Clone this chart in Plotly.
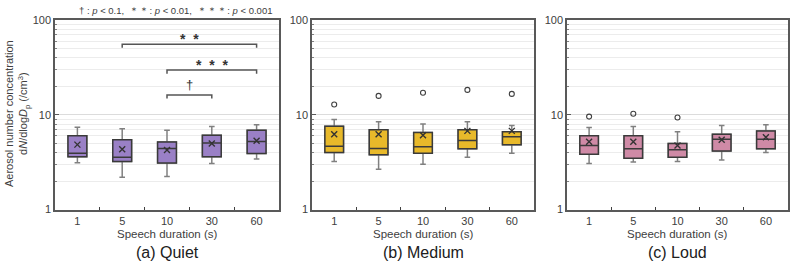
import math
import plotly.graph_objects as go

categories = ["1", "5", "10", "30", "60"]

# Quiet
quiet_q1 = [3.62, 3.22, 3.10, 3.62, 3.92]
quiet_med = [3.94, 3.57, 4.43, 5.06, 5.25]
quiet_q3 = [6.04, 5.46, 5.18, 6.09, 6.89]
quiet_lo = [3.13, 2.20, 2.24, 3.07, 3.43]
quiet_hi = [7.44, 7.17, 6.89, 7.56, 7.87]
quiet_mean = [4.86, 4.33, 4.26, 4.98, 5.34]
quiet_out_x = []
quiet_out_y = []

# Medium
medium_q1 = [4.01, 3.79, 3.94, 4.40, 4.86]
medium_med = [4.67, 4.43, 4.61, 5.38, 5.90]
medium_q3 = [7.62, 7.00, 6.53, 7.00, 6.63]
medium_lo = [3.22, 2.67, 3.01, 3.57, 3.94]
medium_hi = [8.97, 8.50, 8.05, 8.50, 7.74]
medium_mean = [6.24, 6.24, 6.09, 6.79, 6.79]
medium_out_x = ["1", "5", "10", "30", "60"]
medium_out_y = [12.9, 15.9, 17.2, 18.4, 16.7]

# Loud
loud_q1 = [3.85, 3.49, 3.57, 4.16, 4.40]
loud_med = [4.75, 4.40, 4.30, 5.55, 5.55]
loud_q3 = [6.04, 6.04, 4.98, 6.24, 6.79]
loud_lo = [3.07, 3.18, 3.22, 3.35, 4.01]
loud_hi = [7.39, 7.56, 6.63, 7.74, 7.87]
loud_mean = [5.21, 5.21, 4.75, 5.46, 5.82]
loud_out_x = ["1", "5", "10"]
loud_out_y = [9.61, 10.3, 9.39]

# Significance brackets for Quiet panel
sig_from = ["5", "10", "10"]
sig_to = ["60", "60", "30"]
sig_label = ["*  *", "*  *  *", "†"]
sig_level = [56.0, 29.8, 16.3]

panel_titles = ["(a) Quiet", "(b) Medium", "(c) Loud"]
x_title = "Speech duration (s)"
y_title = "Aerosol number concentration<br>d<i>N</i>/dlog<i>D</i><sub>p</sub> (/cm<sup>3</sup>)"
legend_text = "† : <i>p</i> < 0.1,  ＊＊: <i>p</i> < 0.01,  ＊＊＊: <i>p</i> < 0.001"

fills = ["#9A80C6", "#E8B92A", "#CF8AA6"]

W, H = 790, 272
x_doms = [(55, 279), (312, 534), (567, 788)]
y_top, y_bot = 15, 213

pos = {c: i for i, c in enumerate(categories)}

panels = [
    (quiet_q1, quiet_med, quiet_q3, quiet_lo, quiet_hi, quiet_mean, quiet_out_x, quiet_out_y),
    (medium_q1, medium_med, medium_q3, medium_lo, medium_hi, medium_mean, medium_out_x, medium_out_y),
    (loud_q1, loud_med, loud_q3, loud_lo, loud_hi, loud_mean, loud_out_x, loud_out_y),
]

fig = go.Figure()
FONT = "Liberation Sans, Arial, sans-serif"
xs = list(range(len(categories)))

for k, (q1, med, q3, lo, hi, mn, ox, oy) in enumerate(panels):
    xa = "x" if k == 0 else f"x{k+1}"
    ya = "y" if k == 0 else f"y{k+1}"
    fig.add_trace(go.Box(
        x=xs, q1=q1, median=med, q3=q3, lowerfence=lo, upperfence=hi,
        width=0.42, whiskerwidth=0.3, fillcolor=fills[k],
        line=dict(color="#808080", width=1.5), boxpoints=False,
        xaxis=xa, yaxis=ya, showlegend=False, hoverinfo="skip"))
    fig.add_trace(go.Box(
        x=xs, q1=q1, median=med, q3=q3, lowerfence=q1, upperfence=q3,
        width=0.42, whiskerwidth=0, fillcolor=fills[k],
        line=dict(color="#3a3a3a", width=1.5), boxpoints=False,
        xaxis=xa, yaxis=ya, showlegend=False, hoverinfo="skip"))
    fig.add_trace(go.Scatter(
        x=xs, y=mn, mode="markers",
        marker=dict(symbol="x-thin", size=6, line=dict(color="#333333", width=1.4)),
        xaxis=xa, yaxis=ya, showlegend=False, hoverinfo="skip"))
    if ox:
        fig.add_trace(go.Scatter(
            x=[pos[c] for c in ox], y=oy, mode="markers",
            marker=dict(symbol="circle-open", size=5, color="#404040", line=dict(width=1.1)),
            xaxis=xa, yaxis=ya, showlegend=False, hoverinfo="skip"))

for a, b, lab, lev in zip(sig_from, sig_to, sig_label, sig_level):
    x0, x1 = pos[a], pos[b]
    drop = lev / 1.09
    fig.add_trace(go.Scatter(
        x=[x0, x0, x1, x1], y=[drop, lev, lev, drop], mode="lines",
        line=dict(color="#555555", width=1.5),
        xaxis="x", yaxis="y", showlegend=False, hoverinfo="skip"))
    is_dagger = lab == "†"
    fig.add_annotation(x=(x0 + x1) / 2, y=math.log10(lev), xref="x", yref="y",
                       text=lab, showarrow=False, yanchor="middle",
                       yshift=10 if is_dagger else 5,
                       font=dict(family=FONT, size=13 if is_dagger else 14, color="#333333",
                                 weight="normal" if is_dagger else "bold"))

minor_vals = [m * 10 ** e for e in (0, 1) for m in range(2, 10)]
layout = dict(width=W, height=H, margin=dict(l=0, r=0, t=0, b=0),
              paper_bgcolor="white", plot_bgcolor="white", showlegend=False,
              font=dict(family=FONT, color="#404040", size=11))

for k, (xl, xr) in enumerate(x_doms):
    sfx = "" if k == 0 else str(k + 1)
    layout[f"xaxis{sfx}"] = dict(
        domain=[xl / W, xr / W], anchor=f"y{sfx}", range=[-0.5, 4.5],
        tickvals=xs, ticktext=categories, ticks="", showgrid=False, zeroline=False,
        showline=True, linecolor="#595959", linewidth=1.5, mirror=True,
        tickfont=dict(size=11, color="#404040"),
        minor=dict(tickvals=[0.5, 1.5, 2.5, 3.5], ticks="inside", ticklen=3,
                   tickcolor="#404040", tickwidth=1.2, showgrid=False),
        fixedrange=True)
    layout[f"yaxis{sfx}"] = dict(
        domain=[1 - y_bot / H, 1 - y_top / H], anchor=f"x{sfx}", type="log", range=[0, 2],
        tickvals=[1, 10, 100], ticktext=["1", "10", "100"], ticks="inside", ticklen=4,
        tickcolor="#595959", showgrid=True, gridcolor="#dcdcdc", gridwidth=1,
        showline=True, linecolor="#595959", linewidth=1.5, mirror=True, zeroline=False,
        tickfont=dict(size=11, color="#404040"),
        minor=dict(tickvals=minor_vals, ticks="inside", ticklen=2, tickcolor="#808080",
                   showgrid=True, gridcolor="#ececec", gridwidth=1),
        fixedrange=True)
    cx = (xl + xr) / 2 / W
    fig.add_annotation(x=cx, y=1 - 238 / H, xref="paper", yref="paper", text=x_title,
                       showarrow=False, xanchor="center", yanchor="middle",
                       font=dict(family=FONT, size=11.5, color="#404040"))
    fig.add_annotation(x=cx, y=1 - 258 / H, xref="paper", yref="paper", text=panel_titles[k],
                       showarrow=False, xanchor="center", yanchor="middle",
                       font=dict(family=FONT, size=16, color="#202020"))

fig.update_layout(**layout)

fig.add_annotation(x=17 / W, y=1 - 113 / H, xref="paper", yref="paper", text=y_title,
                   textangle=-90, showarrow=False, xanchor="center", yanchor="middle",
                   font=dict(family=FONT, size=11, color="#404040"))
fig.add_annotation(x=175 / W, y=1 - 5 / H, xref="paper", yref="paper", text=legend_text,
                   showarrow=False, xanchor="center", yanchor="middle",
                   font=dict(family=FONT, size=9.5, color="#404040"))

fig.write_html("out.html")
